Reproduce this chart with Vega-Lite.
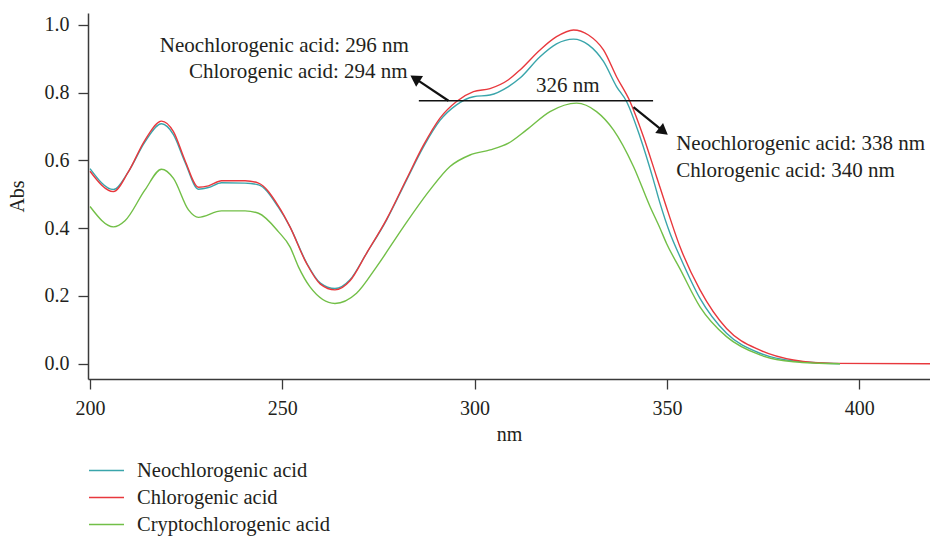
{
  "$schema": "https://vega.github.io/schema/vega-lite/v6.json",
  "autosize": {"type": "none"},
  "padding": {"left": 88, "top": 13, "right": 0, "bottom": 158},
  "width": 842,
  "height": 366,
  "background": "white",
  "config": {
    "view": {"stroke": null},
    "font": "Liberation Serif",
    "text": {"font": "Liberation Serif"},
    "axis": {
      "labelFont": "Liberation Serif",
      "titleFont": "Liberation Serif",
      "labelFontSize": 20,
      "titleFontSize": 20,
      "titleFontWeight": "normal",
      "labelColor": "#231f20",
      "titleColor": "#231f20",
      "domainColor": "#3a3a3a",
      "domainWidth": 1.5,
      "tickColor": "#3a3a3a",
      "tickWidth": 1.3,
      "tickSize": 10,
      "labelPadding": 9,
      "grid": false
    },
    "legend": {
      "labelFont": "Liberation Serif",
      "labelFontSize": 20.5,
      "labelColor": "#231f20",
      "labelLimit": 400
    }
  },
  "datasets": {
    "spectra": [
      {"s": "Neochlorogenic acid", "nm": 200, "abs": 0.576},
      {"s": "Neochlorogenic acid", "nm": 206.1, "abs": 0.514},
      {"s": "Neochlorogenic acid", "nm": 210, "abs": 0.567},
      {"s": "Neochlorogenic acid", "nm": 214.3, "abs": 0.655},
      {"s": "Neochlorogenic acid", "nm": 218.6, "abs": 0.708},
      {"s": "Neochlorogenic acid", "nm": 221.7, "abs": 0.676},
      {"s": "Neochlorogenic acid", "nm": 224.7, "abs": 0.595},
      {"s": "Neochlorogenic acid", "nm": 228.2, "abs": 0.515},
      {"s": "Neochlorogenic acid", "nm": 230.8, "abs": 0.52},
      {"s": "Neochlorogenic acid", "nm": 234.2, "abs": 0.534},
      {"s": "Neochlorogenic acid", "nm": 240.3, "abs": 0.533},
      {"s": "Neochlorogenic acid", "nm": 243.8, "abs": 0.528},
      {"s": "Neochlorogenic acid", "nm": 248.96, "abs": 0.462},
      {"s": "Neochlorogenic acid", "nm": 252, "abs": 0.404},
      {"s": "Neochlorogenic acid", "nm": 256.3, "abs": 0.298},
      {"s": "Neochlorogenic acid", "nm": 259.9, "abs": 0.238},
      {"s": "Neochlorogenic acid", "nm": 263.7, "abs": 0.222},
      {"s": "Neochlorogenic acid", "nm": 267.6, "abs": 0.248},
      {"s": "Neochlorogenic acid", "nm": 271.9, "abs": 0.326},
      {"s": "Neochlorogenic acid", "nm": 277.1, "abs": 0.424},
      {"s": "Neochlorogenic acid", "nm": 282.3, "abs": 0.542},
      {"s": "Neochlorogenic acid", "nm": 286.7, "abs": 0.64},
      {"s": "Neochlorogenic acid", "nm": 291, "abs": 0.718},
      {"s": "Neochlorogenic acid", "nm": 295.3, "abs": 0.764},
      {"s": "Neochlorogenic acid", "nm": 299.7, "abs": 0.788},
      {"s": "Neochlorogenic acid", "nm": 304, "abs": 0.793},
      {"s": "Neochlorogenic acid", "nm": 308.8, "abs": 0.818},
      {"s": "Neochlorogenic acid", "nm": 311.8, "abs": 0.843},
      {"s": "Neochlorogenic acid", "nm": 317, "abs": 0.906},
      {"s": "Neochlorogenic acid", "nm": 321.3, "abs": 0.944},
      {"s": "Neochlorogenic acid", "nm": 325.7, "abs": 0.958},
      {"s": "Neochlorogenic acid", "nm": 329.6, "abs": 0.941},
      {"s": "Neochlorogenic acid", "nm": 333.5, "abs": 0.892},
      {"s": "Neochlorogenic acid", "nm": 336.9, "abs": 0.818},
      {"s": "Neochlorogenic acid", "nm": 339.5, "abs": 0.774},
      {"s": "Neochlorogenic acid", "nm": 343, "abs": 0.67},
      {"s": "Neochlorogenic acid", "nm": 346.5, "abs": 0.542},
      {"s": "Neochlorogenic acid", "nm": 348.2, "abs": 0.474},
      {"s": "Neochlorogenic acid", "nm": 350.8, "abs": 0.385},
      {"s": "Neochlorogenic acid", "nm": 353.4, "abs": 0.316},
      {"s": "Neochlorogenic acid", "nm": 358.6, "abs": 0.193},
      {"s": "Neochlorogenic acid", "nm": 365.5, "abs": 0.09},
      {"s": "Neochlorogenic acid", "nm": 374.2, "abs": 0.031},
      {"s": "Neochlorogenic acid", "nm": 382.9, "abs": 0.008},
      {"s": "Neochlorogenic acid", "nm": 395, "abs": 0.0},
      {"s": "Chlorogenic acid", "nm": 200, "abs": 0.568},
      {"s": "Chlorogenic acid", "nm": 206.1, "abs": 0.508},
      {"s": "Chlorogenic acid", "nm": 210, "abs": 0.567},
      {"s": "Chlorogenic acid", "nm": 214.3, "abs": 0.66},
      {"s": "Chlorogenic acid", "nm": 218.6, "abs": 0.716},
      {"s": "Chlorogenic acid", "nm": 221.7, "abs": 0.685},
      {"s": "Chlorogenic acid", "nm": 224.7, "abs": 0.6},
      {"s": "Chlorogenic acid", "nm": 228.2, "abs": 0.521},
      {"s": "Chlorogenic acid", "nm": 230.8, "abs": 0.525},
      {"s": "Chlorogenic acid", "nm": 234.2, "abs": 0.54},
      {"s": "Chlorogenic acid", "nm": 240.3, "abs": 0.54},
      {"s": "Chlorogenic acid", "nm": 243.8, "abs": 0.533},
      {"s": "Chlorogenic acid", "nm": 248.96, "abs": 0.466},
      {"s": "Chlorogenic acid", "nm": 252, "abs": 0.404},
      {"s": "Chlorogenic acid", "nm": 256.3, "abs": 0.296},
      {"s": "Chlorogenic acid", "nm": 259.9, "abs": 0.235},
      {"s": "Chlorogenic acid", "nm": 263.7, "abs": 0.218},
      {"s": "Chlorogenic acid", "nm": 267.6, "abs": 0.245},
      {"s": "Chlorogenic acid", "nm": 271.9, "abs": 0.326},
      {"s": "Chlorogenic acid", "nm": 277.1, "abs": 0.426},
      {"s": "Chlorogenic acid", "nm": 282.3, "abs": 0.545},
      {"s": "Chlorogenic acid", "nm": 286.7, "abs": 0.645},
      {"s": "Chlorogenic acid", "nm": 291, "abs": 0.725},
      {"s": "Chlorogenic acid", "nm": 295.3, "abs": 0.774},
      {"s": "Chlorogenic acid", "nm": 299.7, "abs": 0.803},
      {"s": "Chlorogenic acid", "nm": 304, "abs": 0.812},
      {"s": "Chlorogenic acid", "nm": 308.8, "abs": 0.838},
      {"s": "Chlorogenic acid", "nm": 311.8, "abs": 0.867},
      {"s": "Chlorogenic acid", "nm": 317, "abs": 0.926},
      {"s": "Chlorogenic acid", "nm": 321.3, "abs": 0.965},
      {"s": "Chlorogenic acid", "nm": 325.7, "abs": 0.985},
      {"s": "Chlorogenic acid", "nm": 329.6, "abs": 0.97},
      {"s": "Chlorogenic acid", "nm": 333.5, "abs": 0.926},
      {"s": "Chlorogenic acid", "nm": 336.9, "abs": 0.847},
      {"s": "Chlorogenic acid", "nm": 340.4, "abs": 0.774},
      {"s": "Chlorogenic acid", "nm": 343.9, "abs": 0.67},
      {"s": "Chlorogenic acid", "nm": 347.3, "abs": 0.552},
      {"s": "Chlorogenic acid", "nm": 349.5, "abs": 0.475},
      {"s": "Chlorogenic acid", "nm": 353.4, "abs": 0.345},
      {"s": "Chlorogenic acid", "nm": 358.6, "abs": 0.218},
      {"s": "Chlorogenic acid", "nm": 365.5, "abs": 0.104},
      {"s": "Chlorogenic acid", "nm": 374.2, "abs": 0.04},
      {"s": "Chlorogenic acid", "nm": 382.9, "abs": 0.011},
      {"s": "Chlorogenic acid", "nm": 393.3, "abs": 0.001},
      {"s": "Chlorogenic acid", "nm": 418.4, "abs": 0.0},
      {"s": "Cryptochlorogenic acid", "nm": 200, "abs": 0.464},
      {"s": "Cryptochlorogenic acid", "nm": 206.1, "abs": 0.404},
      {"s": "Cryptochlorogenic acid", "nm": 209.1, "abs": 0.422},
      {"s": "Cryptochlorogenic acid", "nm": 214.3, "abs": 0.513},
      {"s": "Cryptochlorogenic acid", "nm": 218.6, "abs": 0.574},
      {"s": "Cryptochlorogenic acid", "nm": 221.7, "abs": 0.547},
      {"s": "Cryptochlorogenic acid", "nm": 225.6, "abs": 0.454},
      {"s": "Cryptochlorogenic acid", "nm": 228.2, "abs": 0.432},
      {"s": "Cryptochlorogenic acid", "nm": 234.2, "abs": 0.451},
      {"s": "Cryptochlorogenic acid", "nm": 240.3, "abs": 0.451},
      {"s": "Cryptochlorogenic acid", "nm": 243.8, "abs": 0.444},
      {"s": "Cryptochlorogenic acid", "nm": 248.96, "abs": 0.39},
      {"s": "Cryptochlorogenic acid", "nm": 252, "abs": 0.345},
      {"s": "Cryptochlorogenic acid", "nm": 254.2, "abs": 0.286},
      {"s": "Cryptochlorogenic acid", "nm": 257.2, "abs": 0.227},
      {"s": "Cryptochlorogenic acid", "nm": 263.7, "abs": 0.178},
      {"s": "Cryptochlorogenic acid", "nm": 269.3, "abs": 0.208},
      {"s": "Cryptochlorogenic acid", "nm": 274.5, "abs": 0.286},
      {"s": "Cryptochlorogenic acid", "nm": 281.5, "abs": 0.404},
      {"s": "Cryptochlorogenic acid", "nm": 288.4, "abs": 0.513},
      {"s": "Cryptochlorogenic acid", "nm": 293.6, "abs": 0.582},
      {"s": "Cryptochlorogenic acid", "nm": 298.8, "abs": 0.616},
      {"s": "Cryptochlorogenic acid", "nm": 304, "abs": 0.631},
      {"s": "Cryptochlorogenic acid", "nm": 308.8, "abs": 0.651},
      {"s": "Cryptochlorogenic acid", "nm": 313.5, "abs": 0.69},
      {"s": "Cryptochlorogenic acid", "nm": 319.6, "abs": 0.744},
      {"s": "Cryptochlorogenic acid", "nm": 326.5, "abs": 0.769},
      {"s": "Cryptochlorogenic acid", "nm": 331.7, "abs": 0.744},
      {"s": "Cryptochlorogenic acid", "nm": 336.1, "abs": 0.69},
      {"s": "Cryptochlorogenic acid", "nm": 341.3, "abs": 0.582},
      {"s": "Cryptochlorogenic acid", "nm": 345.6, "abs": 0.464},
      {"s": "Cryptochlorogenic acid", "nm": 348.2, "abs": 0.4},
      {"s": "Cryptochlorogenic acid", "nm": 349.9, "abs": 0.355},
      {"s": "Cryptochlorogenic acid", "nm": 353.4, "abs": 0.28},
      {"s": "Cryptochlorogenic acid", "nm": 358.6, "abs": 0.168},
      {"s": "Cryptochlorogenic acid", "nm": 365.5, "abs": 0.08},
      {"s": "Cryptochlorogenic acid", "nm": 374.2, "abs": 0.026},
      {"s": "Cryptochlorogenic acid", "nm": 382.9, "abs": 0.006},
      {"s": "Cryptochlorogenic acid", "nm": 395, "abs": 0.0}
    ],
    "notes": [
      {"label": "Neochlorogenic acid: 296 nm", "nm": 282.9, "abs": 0.921, "side": "left"},
      {"label": "Chlorogenic acid: 294 nm", "nm": 282.6, "abs": 0.8435, "side": "left"},
      {"label": "326 nm", "nm": 324.2, "abs": 0.803, "side": "center"},
      {"label": "Neochlorogenic acid: 338 nm", "nm": 352.4, "abs": 0.631, "side": "right"},
      {"label": "Chlorogenic acid: 340 nm", "nm": 352.4, "abs": 0.55, "side": "right"}
    ],
    "arrows": [
      {"nm": 293.2, "abs": 0.776, "nm2": 284.5, "abs2": 0.842, "angle": 303},
      {"nm": 341.3, "abs": 0.757, "nm2": 349.1, "abs2": 0.686, "angle": 128}
    ],
    "level": [
      {"nm": 285.5, "nm2": 346.4, "abs": 0.776}
    ]
  },
  "layer": [
    {
      "data": {"name": "spectra"},
      "mark": {"type": "line", "strokeWidth": 1.4, "interpolate": "monotone"},
      "encoding": {
        "x": {
          "field": "nm", "type": "quantitative",
          "scale": {"domain": [199.48, 418.4], "nice": false, "zero": false},
          "axis": {"values": [200, 250, 300, 350, 400], "title": "nm", "titlePadding": 6}
        },
        "y": {
          "field": "abs", "type": "quantitative",
          "scale": {"domain": [-0.045, 1.035], "nice": false, "zero": false},
          "axis": {"values": [0, 0.2, 0.4, 0.6, 0.8, 1.0], "format": ".1f", "title": "Abs", "titlePadding": 17}
        },
        "color": {
          "field": "s", "type": "nominal",
          "scale": {
            "domain": ["Neochlorogenic acid", "Chlorogenic acid", "Cryptochlorogenic acid"],
            "range": ["#3aa5ab", "#e8383d", "#72bf47"]
          },
          "legend": {
            "title": null,
            "orient": "none",
            "legendX": 0,
            "legendY": 444,
            "symbolType": "stroke",
            "symbolSize": 1225,
            "symbolStrokeWidth": 1.6,
            "labelOffset": 12,
            "clipHeight": 27,
            "rowPadding": 0,
            "padding": 0
          }
        }
      }
    },
    {
      "data": {"name": "level"},
      "mark": {"type": "rule", "color": "#111111", "strokeWidth": 1.3},
      "encoding": {
        "x": {"field": "nm", "type": "quantitative"},
        "x2": {"field": "nm2"},
        "y": {"field": "abs", "type": "quantitative"}
      }
    },
    {
      "data": {"name": "arrows"},
      "mark": {"type": "rule", "color": "#111111", "strokeWidth": 2.2},
      "encoding": {
        "x": {"field": "nm", "type": "quantitative"},
        "x2": {"field": "nm2"},
        "y": {"field": "abs", "type": "quantitative"},
        "y2": {"field": "abs2"}
      }
    },
    {
      "data": {"name": "arrows"},
      "mark": {"type": "point", "shape": "triangle-up", "filled": true, "color": "#111111", "size": 160, "opacity": 1},
      "encoding": {
        "x": {"field": "nm2", "type": "quantitative"},
        "y": {"field": "abs2", "type": "quantitative"},
        "angle": {"field": "angle", "type": "quantitative", "scale": null}
      }
    },
    {
      "data": {"name": "notes"},
      "transform": [{"filter": "datum.side == 'left'"}],
      "mark": {"type": "text", "align": "right", "baseline": "alphabetic", "fontSize": 21, "font": "Liberation Serif", "color": "#231f20"},
      "encoding": {
        "x": {"field": "nm", "type": "quantitative"},
        "y": {"field": "abs", "type": "quantitative"},
        "text": {"field": "label"}
      }
    },
    {
      "data": {"name": "notes"},
      "transform": [{"filter": "datum.side == 'center'"}],
      "mark": {"type": "text", "align": "center", "baseline": "alphabetic", "fontSize": 21, "font": "Liberation Serif", "color": "#231f20"},
      "encoding": {
        "x": {"field": "nm", "type": "quantitative"},
        "y": {"field": "abs", "type": "quantitative"},
        "text": {"field": "label"}
      }
    },
    {
      "data": {"name": "notes"},
      "transform": [{"filter": "datum.side == 'right'"}],
      "mark": {"type": "text", "align": "left", "baseline": "alphabetic", "fontSize": 21, "font": "Liberation Serif", "color": "#231f20"},
      "encoding": {
        "x": {"field": "nm", "type": "quantitative"},
        "y": {"field": "abs", "type": "quantitative"},
        "text": {"field": "label"}
      }
    }
  ]
}
